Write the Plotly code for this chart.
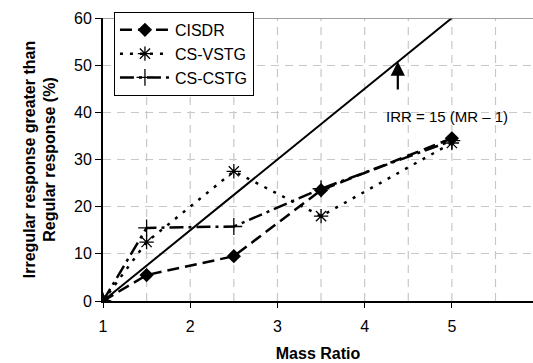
import plotly.graph_objects as go

mass_ratio = [1, 1.5, 2.5, 3.5, 5]
cisdr = [0, 5.5, 9.5, 23.5, 34.5]
cs_vstg = [0, 12.5, 27.5, 18, 33.5]
cs_cstg = [0, 15.5, 15.8, 23.8, 34]
irr_x = [1, 5]
irr_y = [0, 60]

fig = go.Figure()
fig.add_trace(go.Scatter(x=irr_x, y=irr_y, mode="lines", line=dict(color="black", width=2),
                         showlegend=False, hoverinfo="skip"))
fig.add_trace(go.Scatter(x=mass_ratio, y=cisdr, name="CISDR", mode="lines+markers",
                         line=dict(color="black", width=2.5, dash="12px,6px"),
                         marker=dict(symbol="diamond", size=11, color="black")))
fig.add_trace(go.Scatter(x=mass_ratio, y=cs_vstg, name="CS-VSTG", mode="lines+markers",
                         line=dict(color="black", width=2.5, dash="3px,7px"),
                         marker=dict(symbol="asterisk-open", size=12, color="black",
                                     line=dict(width=1.3, color="black"))))
fig.add_trace(go.Scatter(x=mass_ratio, y=cs_cstg, name="CS-CSTG", mode="lines+markers",
                         line=dict(color="black", width=2.5, dash="14px,5px,3px,5px"),
                         marker=dict(symbol="cross-thin-open", size=12, color="black",
                                     line=dict(width=1.3, color="black"))))

fig.add_annotation(x=4.38, y=50.8, ax=4.38, ay=44.5, xref="x", yref="y", axref="x", ayref="y",
                   text="", showarrow=True, arrowhead=2, arrowsize=1.3, arrowwidth=2.2,
                   arrowcolor="black")
fig.add_annotation(x=4.94, y=39.2, xref="x", yref="y", text="IRR = 15 (MR \u2013 1)",
                   showarrow=False, font=dict(size=15, color="black"))

fig.add_shape(type="line", xref="paper", yref="y", x0=0, x1=1, y0=60, y1=60,
              line=dict(color="#808080", width=1.5))

halves = [1.5, 2, 2.5, 3, 3.5, 4, 4.5, 5, 5.5]
for h in halves:
    fig.add_shape(type="line", xref="x", yref="y", x0=h, x1=h, y0=0, y1=60, layer="below",
                  line=dict(color="#c8c8c8", width=1.2, dash="8px,6px"))

fig.update_xaxes(range=[1, 5.93], tickvals=[1, 2, 3, 4, 5], ticktext=["1", "2", "3", "4", "5"],
                 showgrid=False, showline=True, linecolor="black", linewidth=2,
                 ticks="outside", ticklen=5, tickcolor="black", zeroline=False,
                 tickfont=dict(size=16, color="black"), ticklabelstandoff=5,
                 title=dict(text="<b>Mass Ratio</b>", font=dict(size=16, color="black"), standoff=14))
fig.update_yaxes(range=[0, 60], dtick=10, showgrid=True, gridcolor="#c8c8c8", griddash="8px,6px",
                 gridwidth=1.2, showline=True, linecolor="black", linewidth=2,
                 ticks="outside", ticklen=6, tickcolor="black", zeroline=False,
                 tickfont=dict(size=16, color="black"),
                 title=dict(text="<b>Irregular response greater than<br>Regular response (%)</b>",
                            font=dict(size=16, color="black"), standoff=14))

fig.update_layout(width=533, height=363, margin=dict(l=103, r=0, t=18, b=62),
                  plot_bgcolor="white", paper_bgcolor="white",
                  font=dict(family="Liberation Sans, Arial, sans-serif", color="black"),
                  legend=dict(x=0.025, y=1.022, xanchor="left", yanchor="top",
                              bgcolor="white", bordercolor="black", borderwidth=1.2,
                              font=dict(size=16, color="black"), tracegroupgap=0,
                              itemwidth=50))

fig.write_html("out.html")
